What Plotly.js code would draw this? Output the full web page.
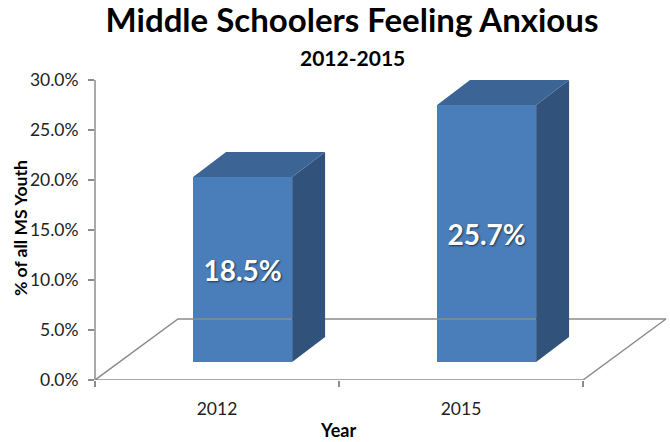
<!DOCTYPE html>
<html>
<head>
<meta charset="utf-8">
<script src="https://cdn.plot.ly/plotly-3.0.1.min.js"></script>
<style>html,body{margin:0;padding:0;background:#fff;}#chart{width:670px;height:442px;}</style>
</head>
<body>
<div id="chart"></div>
<script>
// ---- data ----
var categories = ["2012", "2015"];
var values = [18.5, 25.7];           // % of all MS youth
var valueLabels = ["18.5%", "25.7%"];
var yTickVals = [0, 5, 10, 15, 20, 25, 30];
var yTickText = ["0.0%", "5.0%", "10.0%", "15.0%", "20.0%", "25.0%", "30.0%"];

// ---- 3D look parameters (styling, in axis units) ----
var catPos = categories.map(function (c, i) { return i; });
var barBase = 1.8, barLeft = -0.098, barW = 0.406;
var depthX = 0.135, depthY = 2.5;
var floorDX = 0.34, floorDY = 6.1;

var FONT = "Lato, 'Open Sans', sans-serif";
var frontCol = "#4A7EBB", topCol = "#3C6595", sideCol = "#31527A", gridCol = "#8C8C8C";

// side and top faces derived from the values
var sideX = [], sideY = [], topX = [], topY = [];
catPos.forEach(function (p, i) {
  var xl = p + barLeft, xr = xl + barW, b = barBase, t = barBase + values[i];
  sideX.push(xr, xr + depthX, xr + depthX, xr, xr, null);
  sideY.push(b, b + depthY, t + depthY, t, b, null);
  topX.push(xl, xl + depthX, xr + depthX, xr, xl, null);
  topY.push(t, t + depthY, t + depthY, t, t, null);
});

// floor parallelogram
var fx0 = catPos[0] - 0.5, fx1 = catPos[catPos.length - 1] + 0.5;
var floorTrace = {
  type: "scatter", mode: "lines", hoverinfo: "skip", showlegend: false,
  x: [fx0, fx1, fx1 + floorDX, fx0 + floorDX, fx0],
  y: [0, 0, floorDY, floorDY, 0],
  line: {color: gridCol, width: 1.5}
};

var frontTrace = {
  type: "bar", x: catPos, y: values, base: barBase, width: barW, offset: barLeft,
  marker: {color: frontCol, line: {width: 0}},
  text: valueLabels, textposition: "inside", insidetextanchor: "middle", textangle: 0,
  textfont: {family: FONT, size: 28, color: "#ffffff", weight: "bold", shadow: "1px 1px 2px rgba(0,0,0,0.6)"},
  hoverinfo: "skip", showlegend: false
};
var sideTrace = {type: "scatter", mode: "lines", x: sideX, y: sideY, fill: "toself", fillcolor: sideCol,
  line: {width: 0, color: sideCol}, hoverinfo: "skip", showlegend: false};
var topTrace = {type: "scatter", mode: "lines", x: topX, y: topY, fill: "toself", fillcolor: topCol,
  line: {width: 0, color: topCol}, hoverinfo: "skip", showlegend: false};

var layout = {
  width: 670, height: 442,
  margin: {l: 95, r: 0, t: 70, b: 62},
  paper_bgcolor: "#ffffff", plot_bgcolor: "rgba(0,0,0,0)",
  font: {family: FONT, color: "#000"},
  title: {
    text: "<b>Middle Schoolers Feeling Anxious</b>",
    font: {family: FONT, size: 33, color: "#000"},
    x: 352 / 670, xanchor: "center", xref: "container",
    y: 1 - 9 / 442, yanchor: "top", yref: "container"
  },
  xaxis: {
    range: [-0.5, 1.8566], fixedrange: true, showgrid: false, zeroline: false, showline: false,
    tickmode: "array", tickvals: catPos, ticktext: categories, ticks: "",
    ticklabelstandoff: 16,
    tickfont: {family: FONT, size: 17.5, color: "#222"},
    minor: {tickmode: "array", tickvals: [fx0, 0.5, fx1], ticks: "outside", ticklen: 6, tickwidth: 1.5, tickcolor: gridCol, showgrid: false}
  },
  yaxis: {
    range: [0, 31], fixedrange: true, showgrid: false, zeroline: false, showline: false,
    tickmode: "array", tickvals: yTickVals, ticktext: yTickText,
    ticks: "outside", ticklen: 6, tickwidth: 1.5, tickcolor: gridCol,
    ticklabelstandoff: 6,
    tickfont: {family: FONT, size: 17.5, color: "#222"}
  },
  shapes: [
    {type: "line", xref: "paper", yref: "y", x0: 0, x1: 0, y0: 0, y1: 30, line: {color: gridCol, width: 1.5}, layer: "below"}
  ],
  annotations: [
    {text: "<b>2012-2015</b>", xref: "paper", yref: "paper", x: (352 - 95) / 575, y: (442 - 62 - 58) / 310,
      xanchor: "center", yanchor: "middle", showarrow: false, font: {family: FONT, size: 21, color: "#000"}},
    {text: "<b>Year</b>", xref: "paper", yref: "paper", x: (338 - 95) / 575, y: -(430 - 380) / 310,
      xanchor: "center", yanchor: "middle", showarrow: false, font: {family: FONT, size: 18, color: "#000"}},
    {text: "<b>% of all MS Youth</b>", textangle: -90, xref: "paper", yref: "paper", x: (20 - 95) / 575, y: (380 - 228) / 310,
      xanchor: "center", yanchor: "middle", showarrow: false, font: {family: FONT, size: 17.5, color: "#000"}}
  ],
  bargap: 0
};

Plotly.newPlot("chart", [floorTrace, frontTrace, sideTrace, topTrace], layout, {staticPlot: true, displayModeBar: false});
</script>
</body>
</html>
